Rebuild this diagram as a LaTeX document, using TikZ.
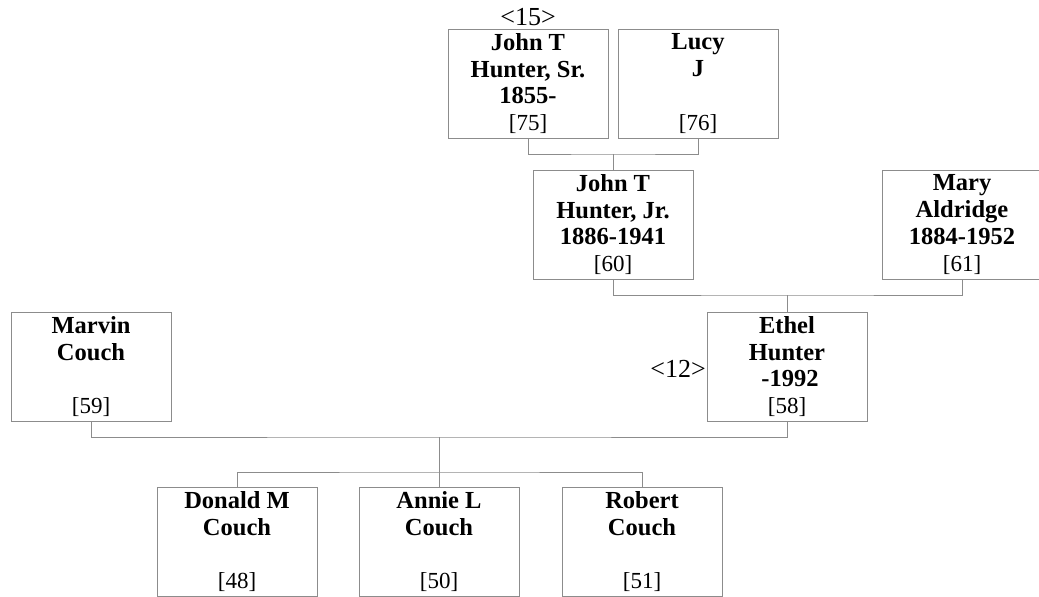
\documentclass[tikz,border=0pt]{standalone}
\usepackage{fontspec}
\setmainfont{Liberation Serif}
\usepackage{tikz}

\newcommand\idno[1]{{\fontsize{23}{26.7}\selectfont\mdseries[#1]}}

\begin{document}
\begin{tikzpicture}[x=1pt, y=-1pt,
		person/.style={draw=black!45, line width=1pt, minimum width=160, minimum height=109, align=center, inner sep=0pt,
			font=\fontsize{24.5}{26.7}\selectfont\bfseries,
			execute at begin node={\rule{0pt}{22pt}}, execute at end node={\rule[-3pt]{0pt}{3pt}}},
		link/.style={draw=black!45, line width=1pt},
		tag/.style={inner sep=0pt, font=\fontsize{26}{28}\selectfont}]
			\useasboundingbox (0,0) rectangle (1039,597);
			\node (sr) [person] at (528,83.5) {John T\\Hunter, Sr.\\1855-\\\idno{75}};
			\node (lucy) [person] at (698,83.5) {Lucy\\J\\\\\idno{76}};
			\node (jr) [person] at (613,224.5) {John T\\Hunter, Jr.\\1886-1941\\\idno{60}};
			\node (mary) [person] at (962,224.5) {Mary\\Aldridge\\1884-1952\\\idno{61}};
			\node (marvin) [person] at (91,366.5) {Marvin\\Couch\\\\\idno{59}};
			\node (ethel) [person] at (787,366.5) {Ethel\\Hunter\\\hspace*{0.25em}-1992\\\idno{58}};
			\node (donald) [person] at (237,541.5) {Donald M\\Couch\\\\\idno{48}};
			\node (annie) [person] at (439,541.5) {Annie L\\Couch\\\\\idno{50}};
			\node (robert) [person] at (642,541.5) {Robert\\Couch\\\\\idno{51}};
			\node (t15) [tag, anchor=base] at (528,25) {<15>};
			\node (t12) [tag, anchor=base east] at (706,377) {<12>};
			
			\coordinate (u1) at (613,154);
			\coordinate (u2) at (787,295);
			\coordinate (u3) at (439,437);
			\coordinate (c3) at (439,472);
			
			\path[link] (sr.south) |- (u1) -| (lucy.south);
			\path[link] (u1) -- (jr.north);
			\path[link] (jr.south) |- (u2) -| (mary.south);
			\path[link] (u2) -- (ethel.north);
			\path[link] (marvin.south) |- (u3) -| (ethel.south);
			\path[link] (u3) -- (annie.north);
			\path[link] (donald.north) |- (c3) -| (robert.north);
\end{tikzpicture}
\end{document}
